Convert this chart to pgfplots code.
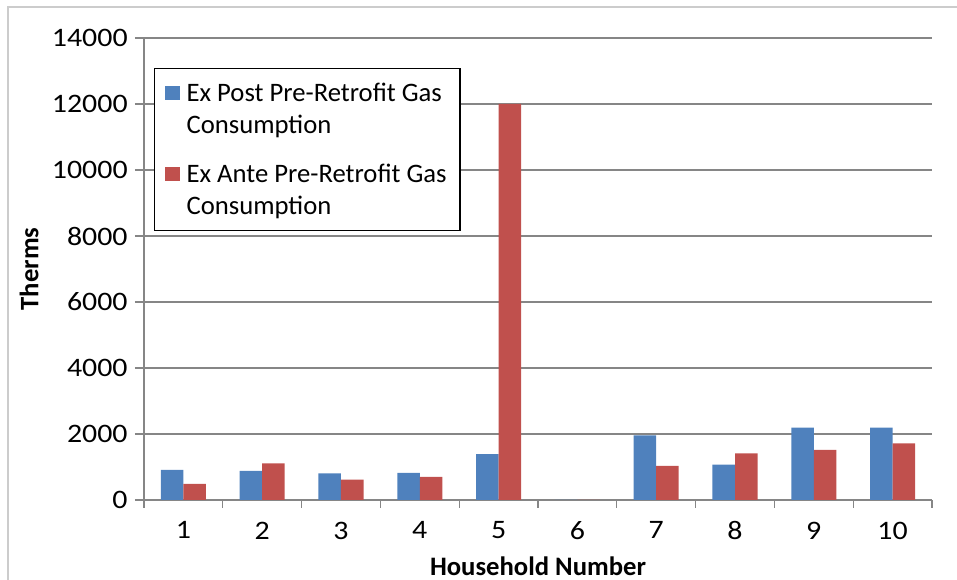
\documentclass[border=0pt]{standalone}
\usepackage{pgfplots}
\pgfplotsset{compat=1.18}
\usepackage{fontspec}
\setmainfont{Carlito}
\definecolor{expost}{HTML}{4F81BD}
\definecolor{exante}{HTML}{C0504D}
\definecolor{gridgray}{HTML}{868686}
\begin{document}
\begin{tikzpicture}[font=\fontsize{20}{24.5}\selectfont]
    \useasboundingbox (-108pt,-60pt) rectangle (609.75pt,375pt);
    % outer chart frame
    \draw[gray!40, line width=1.1pt] (-102pt,-80pt) -- (-102pt,369.75pt) -- (640pt,369.75pt);
    \begin{axis}[
            scale only axis,
            width=591pt, height=346.5pt,
            ybar=0pt, bar width=16.9pt,
            ymin=0, ymax=14000,
            ytick={0,2000,...,14000},
            xmin=0.5, xmax=10.5,
            xtick={1,...,10},
            minor xtick={0.5,1.5,...,10.5},
            major x tick style={draw=none},
            tick align=outside,
            major tick length=6.75pt, minor tick length=6pt,
            axis x line*=bottom, axis y line*=left,
            axis line style={gridgray, line width=0.9pt},
            every tick/.style={gridgray, line width=0.9pt},
            ymajorgrids,
            grid style={gridgray, line width=0.9pt},
            scaled y ticks=false,
            /pgf/number format/assume math mode=true,
            yticklabel={\scalebox{1.12}[1]{\pgfmathprintnumber[fixed, 1000 sep={}]{\tick}}},
            xticklabel={\scalebox{1.12}[1]{\pgfmathprintnumber{\tick}}},
            yticklabel style={xshift=-2pt},
            xticklabel style={yshift=-6pt},
            xlabel={\bfseries Household Number},
            ylabel={\bfseries Therms},
            every axis x label/.style={at={(rel axis cs:0.5,0)}, yshift=-49.5pt, anchor=center},
            every axis y label/.style={at={(rel axis cs:0,0.5)}, xshift=-86.25pt, rotate=90, anchor=center},
            legend image code/.code={\fill[#1] (2pt,25pt) rectangle (13pt,36pt); \path (16pt,25pt);},
            legend cell align=left,
            legend style={at={(rel axis cs:0.0127,0.935)}, anchor=north west,
                draw=black, line width=0.9pt, row sep=17pt,
                inner xsep=8pt, inner ysep=8.5pt,
                cells={anchor=base west, align=left}},
        ]
        \addplot[fill=expost, draw=none] coordinates {
            (1,915) (2,885) (3,805) (4,825) (5,1390)
            (6,0) (7,1960) (8,1075) (9,2195) (10,2195)
        };
        \addplot[fill=exante, draw=none] coordinates {
            (1,490) (2,1110) (3,620) (4,700) (5,12000)
            (6,0) (7,1035) (8,1410) (9,1515) (10,1715)
        };
        \legend{{Ex Post Pre-Retrofit Gas\\Consumption},
                {Ex Ante Pre-Retrofit Gas\\Consumption}}
    \end{axis}
\end{tikzpicture}
\end{document}
